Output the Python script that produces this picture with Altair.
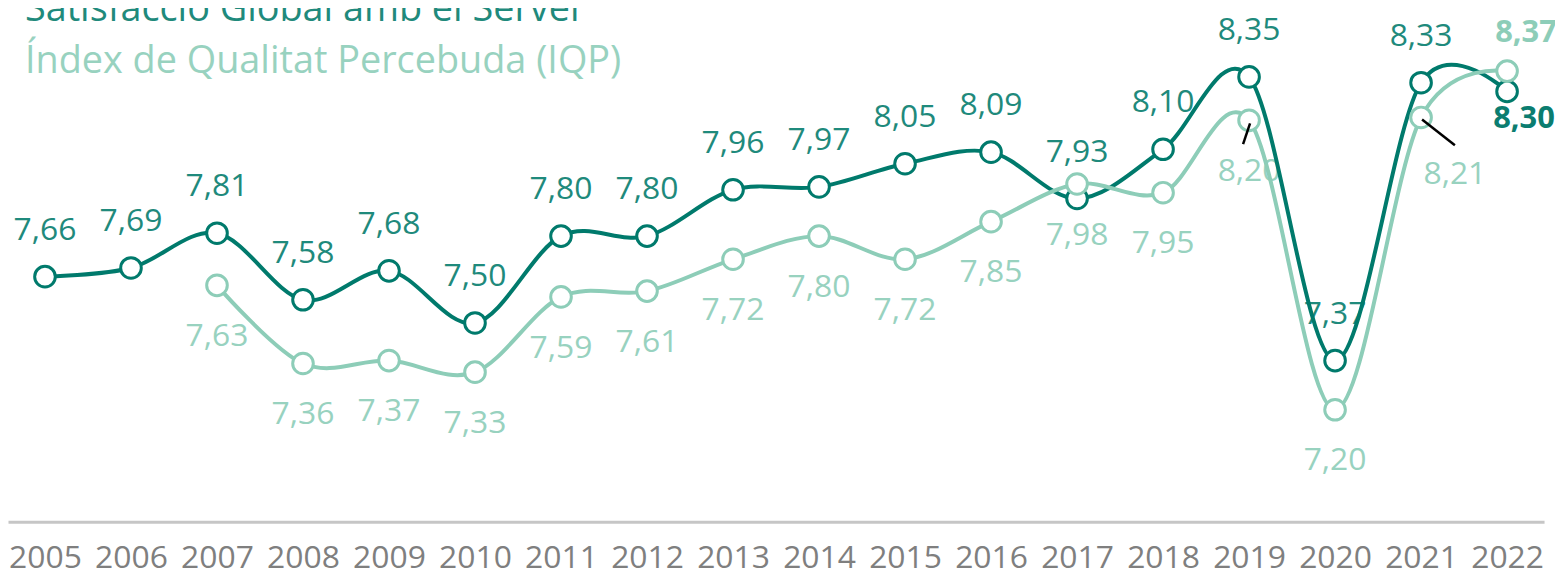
import altair as alt
import pandas as pd

years = [str(y) for y in range(2005, 2023)]
satisfaccio = [7.66, 7.69, 7.81, 7.58, 7.68, 7.50, 7.80, 7.80, 7.96, 7.97,
               8.05, 8.09, 7.93, 8.10, 8.35, 7.37, 8.33, 8.30]
iqp = [None, None, 7.63, 7.36, 7.37, 7.33, 7.59, 7.61, 7.72, 7.80,
       7.72, 7.85, 7.98, 7.95, 8.20, 7.20, 8.21, 8.37]
series_names = ["Satisfacció Global amb el Servei", "Índex de Qualitat Percebuda (IQP)"]

DARK = "#007A6C"
DARK_TXT = "#1F8A7C"
LIGHT = "#8DCDB8"
LIGHT_TXT = "#98D2BF"
FONT = "Open Sans"

rows = []
for s, vals in zip(series_names, [satisfaccio, iqp]):
    for y, v in zip(years, vals):
        if v is not None:
            rows.append({"year": y, "value": v, "series": s,
                         "label": f"{v:.2f}".replace(".", ",")})
df = pd.DataFrame(rows)
dark_df = df[df.series == series_names[0]]
light_df = df[df.series == series_names[1]]

x = alt.X("year:O", scale=alt.Scale(type="point", padding=0.43),
          axis=alt.Axis(title=None, ticks=False, grid=False, domainColor="#C6C6C6",
                        domainWidth=3, labelFont=FONT, labelFontSize=32,
                        labelColor="#7F7F7F", labelPadding=21, labelAngle=0,
                        labelBaseline="top"))
y = alt.Y("value:Q", scale=alt.Scale(domain=[6.813, 8.583], zero=False, nice=False),
          axis=None)

base_d = alt.Chart(dark_df).encode(x=x, y=y)
base_l = alt.Chart(light_df).encode(x=x, y=y)

dark_labels = base_d.transform_filter(alt.datum.year != "2022").mark_text(
    font=FONT, fontSize=32, color=DARK_TXT, baseline="middle", dy=-47
).encode(text="label:N")
dark_last = base_d.transform_filter(alt.datum.year == "2022").mark_text(
    font=FONT, fontSize=31, fontWeight="bold", color="#0B7D70", baseline="middle", dx=17, dy=28
).encode(text="label:N")

light_labels = base_l.transform_filter(
    (alt.datum.year != "2022") & (alt.datum.year != "2021")
).mark_text(
    font=FONT, fontSize=32, color=LIGHT_TXT, baseline="middle", dy=51
).encode(text="label:N")
light_2021 = base_l.transform_filter(alt.datum.year == "2021").mark_text(
    font=FONT, fontSize=32, color=LIGHT_TXT, baseline="middle", dx=34, dy=57
).encode(text="label:N")
light_last = base_l.transform_filter(alt.datum.year == "2022").mark_text(
    font=FONT, fontSize=31, fontWeight="bold", color=LIGHT, baseline="middle", dx=19, dy=-38
).encode(text="label:N")

dark_line = base_d.mark_line(color=DARK, strokeWidth=4, interpolate="cardinal")
dark_pts = base_d.mark_point(shape="circle", size=430, filled=True, fill="white",
                             stroke=DARK, strokeWidth=3, opacity=1)
light_line = base_l.mark_line(color=LIGHT, strokeWidth=4, interpolate="cardinal")
light_pts = base_l.mark_point(shape="circle", size=430, filled=True, fill="white",
                              stroke=LIGHT, strokeWidth=3, opacity=1)

lead_enc = dict(x=x, y=y, x2="year:O", y2="value:Q")
lead_2019 = alt.Chart(light_df).transform_filter(alt.datum.year == "2019").mark_rule(
    color="black", strokeWidth=2.5, xOffset=1, yOffset=3, x2Offset=-6, y2Offset=24
).encode(**lead_enc)
lead_2021 = alt.Chart(light_df).transform_filter(alt.datum.year == "2021").mark_rule(
    color="black", strokeWidth=2.5, xOffset=1, yOffset=2, x2Offset=34, y2Offset=28
).encode(**lead_enc)

legend_df = pd.DataFrame({"name": series_names, "row": [0, 1]})
legend1 = alt.Chart(legend_df).transform_filter(alt.datum.row == 0).mark_text(
    font=FONT, fontSize=38, color=DARK_TXT, align="left", baseline="alphabetic"
).encode(text="name:N", x=alt.value(17), y=alt.value(12))
legend2 = alt.Chart(legend_df).transform_filter(alt.datum.row == 1).mark_text(
    font=FONT, fontSize=38, color=LIGHT_TXT, align="left", baseline="alphabetic"
).encode(text="name:N", x=alt.value(17), y=alt.value(64))

chart = alt.layer(
    dark_labels, light_labels, light_2021,
    dark_line, dark_pts, light_line, light_pts,
    dark_last, light_last, lead_2019, lead_2021,
    legend1, legend2
).properties(
    width=1544, height=515, autosize="none",
    padding={"left": 0, "top": 0, "right": 11, "bottom": 55}
).configure_view(strokeWidth=0)

chart.save("out.html", embed_options={"renderer": "svg", "actions": False})
